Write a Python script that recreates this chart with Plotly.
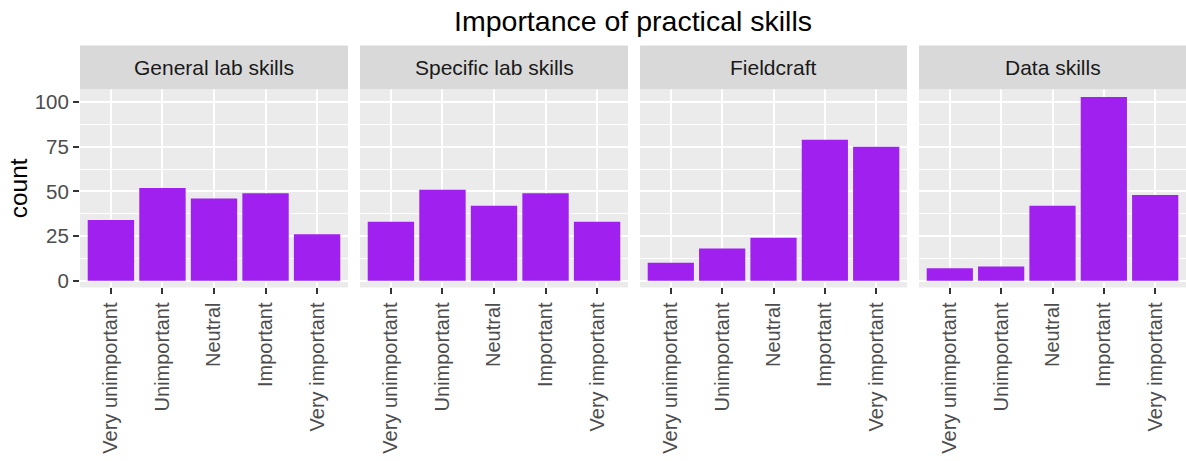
import plotly.graph_objects as go

# Survey responses: how important each group of practical skills is rated
categories = ["Very unimportant", "Unimportant", "Neutral", "Important", "Very important"]
skills = ["General lab skills", "Specific lab skills", "Fieldcraft", "Data skills"]
general_lab = [34, 52, 46, 49, 26]
specific_lab = [33, 51, 42, 49, 33]
fieldcraft = [10, 18, 24, 79, 75]
data_skills = [7, 8, 42, 103, 48]
y_ticks = [0, 25, 50, 75, 100]

counts = [general_lab, specific_lab, fieldcraft, data_skills]

W, H = 1186, 461
FONT = "Liberation Sans, Arial, sans-serif"
BAR = "#A020F0"
PANEL_BG = "#EBEBEB"
STRIP_BG = "#D9D9D9"

# panel geometry in pixels
panel_x = [(80, 348), (360, 628), (640, 907), (919, 1186)]
panel_top, panel_bottom = 90, 290
strip_top = 46

def px_x(v):
    return v / W

def px_y(v):
    return 1 - v / H

fig = go.Figure()
layout = {}
shapes = []
annotations = []

for i, (name, vals) in enumerate(zip(skills, counts)):
    n = i + 1
    xa = "x" if n == 1 else f"x{n}"
    ya = "y" if n == 1 else f"y{n}"
    fig.add_trace(go.Bar(
        x=categories, y=vals, xaxis=xa, yaxis=ya,
        marker=dict(color=BAR, line=dict(width=0)),
        width=0.9, showlegend=False, hoverinfo="x+y",
    ))
    x0, x1 = panel_x[i]
    layout["xaxis" if n == 1 else f"xaxis{n}"] = dict(
        domain=[px_x(x0), px_x(x1)],
        anchor=ya,
        type="category",
        categoryorder="array", categoryarray=categories,
        range=[-0.6, len(categories) - 0.4],
        showgrid=True, gridcolor="white", gridwidth=2,
        ticks="outside", ticklen=6, tickwidth=2, tickcolor="#333333",
        tickangle=-90,
        tickfont=dict(family=FONT, size=20, color="#4D4D4D"),
        showline=False, zeroline=False, fixedrange=True,
    )
    layout["yaxis" if n == 1 else f"yaxis{n}"] = dict(
        domain=[px_y(panel_bottom), px_y(panel_top)],
        anchor=xa,
        range=[-3.8, 107.3],
        tickvals=y_ticks,
        showticklabels=(n == 1),
        ticks="outside" if n == 1 else "",
        ticklen=6, tickwidth=2, tickcolor="#333333",
        tickfont=dict(family=FONT, size=20.5, color="#4D4D4D"),
        showgrid=True, gridcolor="white", gridwidth=2,
        minor=dict(dtick=12.5, tick0=12.5, showgrid=True, gridcolor="white", gridwidth=1, ticks=""),
        zeroline=False, showline=False, fixedrange=True,
    )
    # panel background
    shapes.append(dict(
        type="rect", xref="paper", yref="paper", layer="below",
        x0=px_x(x0), x1=px_x(x1), y0=px_y(panel_bottom), y1=px_y(panel_top),
        fillcolor=PANEL_BG, line=dict(width=0),
    ))
    # facet strip
    shapes.append(dict(
        type="rect", xref="paper", yref="paper",
        x0=px_x(x0), x1=px_x(x1), y0=px_y(panel_top), y1=px_y(strip_top),
        fillcolor=STRIP_BG, line=dict(width=0),
    ))
    annotations.append(dict(
        text=name, xref="paper", yref="paper",
        x=px_x((x0 + x1) / 2), y=px_y((strip_top + panel_top) / 2),
        xanchor="center", yanchor="middle", showarrow=False,
        font=dict(family=FONT, size=21, color="#1A1A1A"),
    ))

annotations.append(dict(
    text="count", xref="paper", yref="paper",
    x=px_x(18), y=px_y((panel_top + panel_bottom) / 2),
    xanchor="center", yanchor="middle", textangle=-90, showarrow=False,
    font=dict(family=FONT, size=24.5, color="black"),
))

fig.update_layout(
    width=W, height=H,
    margin=dict(l=0, r=0, t=0, b=0),
    paper_bgcolor="white", plot_bgcolor="rgba(0,0,0,0)",
    title=dict(
        text="Importance of practical skills",
        x=px_x((80 + 1186) / 2), xanchor="center", xref="paper",
        y=1 - 21 / H, yanchor="middle", yref="container",
        font=dict(family=FONT, size=28.5, color="black"),
    ),
    bargap=0.1,
    shapes=shapes,
    annotations=annotations,
    **layout,
)

fig.write_html("out.html")
